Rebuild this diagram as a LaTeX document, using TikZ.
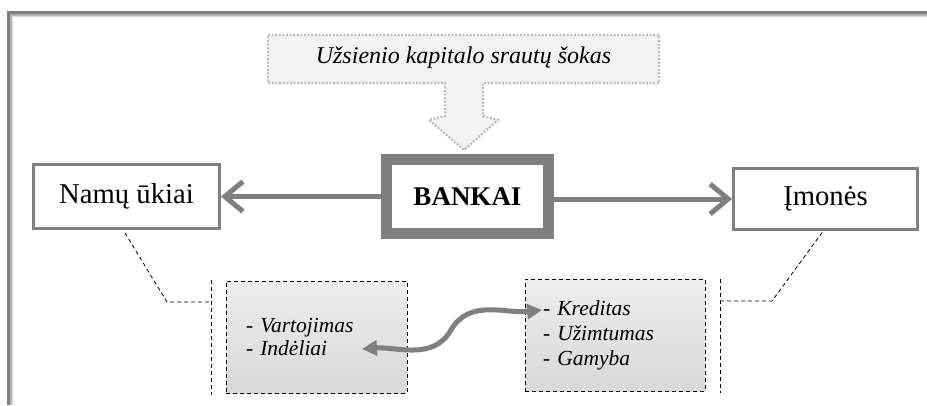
\documentclass[tikz,border=0pt]{standalone}
\usepackage{fontspec}
\setmainfont{Liberation Serif}
\usetikzlibrary{arrows.meta,calc}
\definecolor{framedark}{HTML}{808080}
\definecolor{framelight}{HTML}{B4B4B4}
\definecolor{framepale}{HTML}{DADADA}
\definecolor{boxgray}{HTML}{7F7F7F}
\definecolor{dotgray}{HTML}{BDBDBD}
\definecolor{callfill}{HTML}{F2F2F2}
\tikzset{
  sidebox/.style={draw=boxgray, line width=3pt, fill=white, inner sep=0pt,
    font=\fontsize{28.7}{34}\selectfont},
  bankbox/.style={draw=boxgray, line width=11pt, fill=white, inner sep=0pt,
    minimum width=162pt, minimum height=74pt,
    font=\bfseries\fontsize{27}{32}\selectfont},
  listbox/.style={draw=black, line width=0.8pt, dash pattern=on 4pt off 3pt,
    top color=black!7, middle color=white, bottom color=black!15,
    inner ysep=0pt, align=left, anchor=center},
  bigarrow/.style={draw=boxgray, line width=5pt,
    -{Straight Barb[length=18pt,width=30pt]}},
  curvearrow/.style={draw=boxgray, line width=5pt,
    {Triangle[length=15pt,width=15pt]}-{Triangle[length=15pt,width=15pt]}},
  thindash/.style={draw=black, line width=0.8pt, dash pattern=on 4pt off 3pt},
}
\begin{document}
\begin{tikzpicture}[x=1pt,y=-1pt]
\useasboundingbox (0,0) rectangle (927,405);
% page frame
\draw[framedark, line width=3pt] (8.5,405) -- (8.5,12.5) -- (927,12.5);
\draw[framelight, line width=2pt] (11,405) -- (11,15) -- (927,15);
\draw[framepale, line width=1pt] (12.5,405) -- (12.5,16.5) -- (927,16.5);

% callout with down arrow
\draw[dotgray, fill=callfill, line width=2.2pt, dash pattern=on 2pt off 1.6pt]
  (268,35) -- (659,35) -- (659,83) -- (483,83) -- (483,116) -- (498,120)
  -- (464,150) -- (429,120) -- (445,116) -- (445,83) -- (268,83) -- cycle;
\node[font=\itshape\fontsize{24}{28}\selectfont] (shock) at (463.5,58)
  {Užsienio kapitalo srautų šokas};

% main boxes
\node[bankbox] (bank) at (467.5,196.5) {BANKAI};
\node[sidebox, minimum width=186pt, minimum height=64pt] (namu) at (126.5,196.5) {Namų ūkiai};
\node[sidebox, minimum width=184pt, minimum height=61pt] (imon) at (825.5,199) {Įmonės};

\draw[bigarrow] (bank.west |- namu.east) -- (namu.east);
\draw[bigarrow] (bank.east |- imon.west) -- (imon.west);

% lower boxes
\node[listbox, minimum width=181pt, minimum height=112pt, inner xsep=20pt,
  text width=141pt, font=\itshape\fontsize{21.5}{23}\selectfont]
  (left) at (316.5,337) {- Vartojimas\\- Indėliai};
\node[listbox, minimum width=180pt, minimum height=112pt, inner xsep=18pt,
  text width=144pt, font=\itshape\fontsize{21.5}{25}\selectfont]
  (right) at (615,335) {- Kreditas\\- Užimtumas\\- Gamyba};

% bracket lines
\coordinate (lvtop) at (211,280);
\coordinate (lvbot) at (211,395);
\coordinate (lvmid) at (211,302);
\coordinate (lknee) at (167,302);
\draw[thindash] (lvtop) -- (lvbot);
\draw[thindash] ($(namu.south west)+(93,3)$) -- (lknee) -- (lvmid);

\coordinate (rvtop) at (720,279);
\coordinate (rvbot) at (720,393);
\coordinate (rvmid) at (720,301);
\coordinate (rknee) at (772,301);
\draw[thindash] (rvtop) -- (rvbot);
\draw[thindash] (rvmid) -- (rknee) -- ($(imon.south west)+(92,-1)$);

% curved double arrow
\coordinate (ltip) at (362,349);
\coordinate (mid) at (451,330);
\coordinate (rtip) at (542,310);
\draw[curvearrow] (ltip) to[out=4,in=240] (mid) to[out=60,in=186] (rtip);
\end{tikzpicture}
\end{document}
